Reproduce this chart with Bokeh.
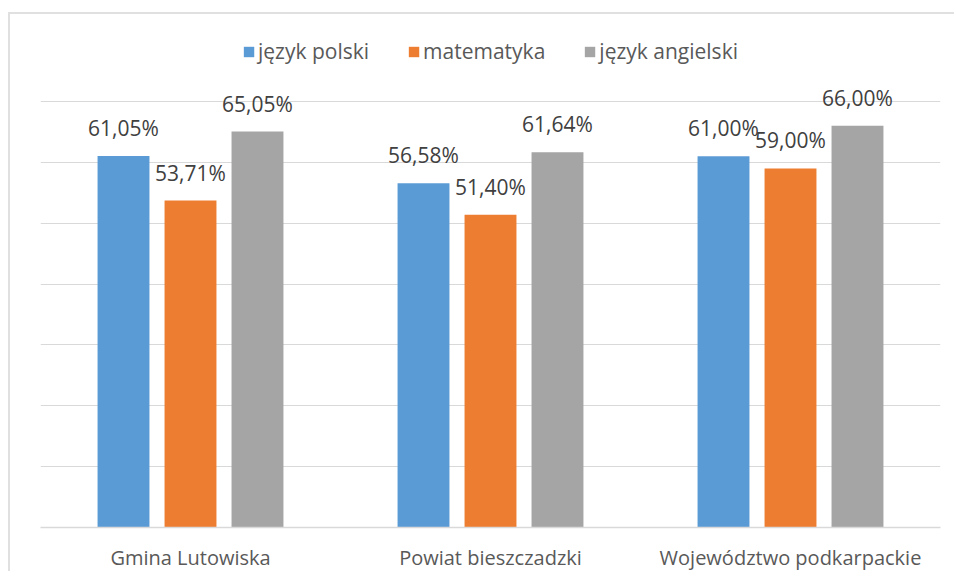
from bokeh.plotting import figure
from bokeh.models import ColumnDataSource, FactorRange, Legend, LegendItem, FixedTicker
from bokeh.transform import dodge
from bokeh.core.properties import value
from bokeh.embed import file_html
from bokeh.resources import INLINE

categories = ["Gmina Lutowiska", "Powiat bieszczadzki", "Województwo podkarpackie"]
series_names = ["język polski", "matematyka", "język angielski"]
polski = [61.05, 56.58, 61.00]
matematyka = [53.71, 51.40, 59.00]
angielski = [65.05, 61.64, 66.00]
y_ticks = [0, 10, 20, 30, 40, 50, 60, 70]

colors = ["#5B9BD5", "#ED7D31", "#A5A5A5"]
offsets = [-0.2233, 0.0, 0.2233]
FONT = "Open Sans"


def fmt(v):
    return f"{v:.2f}".replace(".", ",") + "%"


src = ColumnDataSource(data=dict(
    cat=categories,
    s0=polski, s1=matematyka, s2=angielski,
    l0=[fmt(v) for v in polski],
    l1=[fmt(v) for v in matematyka],
    l2=[fmt(v) for v in angielski],
))

p = figure(
    x_range=FactorRange(*categories, range_padding=0, factor_padding=0),
    y_range=(0, 81),
    width=946, height=559,
    output_backend="svg", toolbar_location=None,
    min_border_left=30, min_border_right=16, min_border_top=20, min_border_bottom=44,
    styles={"border-left": "2px solid #e0e0e0", "border-top": "2px solid #e0e0e0",
            "margin-left": "8px", "margin-top": "12px"},
)
p.outline_line_color = None
p.background_fill_color = "white"
p.border_fill_color = "white"

items = []
for i, (name, col, off) in enumerate(zip(series_names, colors, offsets)):
    r = p.vbar(x=dodge("cat", off, range=p.x_range), top=f"s{i}", width=0.173,
               source=src, fill_color=col, line_color=None)
    items.append(LegendItem(label=name, renderers=[r]))
    p.text(x=dodge("cat", off, range=p.x_range), y=f"s{i}", text=f"l{i}", source=src,
           text_align="center", text_baseline="bottom", y_offset=-14,
           text_font=value(FONT), text_font_size="21px", text_color="#404040")

p.yaxis.visible = False
p.ygrid.ticker = FixedTicker(ticks=y_ticks)
p.ygrid.grid_line_color = "#d9d9d9"
p.ygrid.grid_line_width = 1
p.xgrid.grid_line_color = None

p.xaxis.axis_line_color = "#d9d9d9"
p.xaxis.axis_line_width = 1.5
p.xaxis.major_tick_line_color = None
p.xaxis.minor_tick_line_color = None
p.xaxis.major_label_standoff = 10
p.xaxis.major_label_text_font = FONT
p.xaxis.major_label_text_font_size = "20px"
p.xaxis.major_label_text_color = "#595959"

legend = Legend(items=items, orientation="horizontal", location="top_center",
                label_text_font=FONT, label_text_font_size="21px",
                label_text_color="#595959",
                glyph_width=13, glyph_height=13, label_standoff=3, spacing=38,
                padding=0, margin=3, border_line_color=None,
                background_fill_alpha=0)
p.add_layout(legend, "center")

open("out.html", "w").write(file_html(p, INLINE))
